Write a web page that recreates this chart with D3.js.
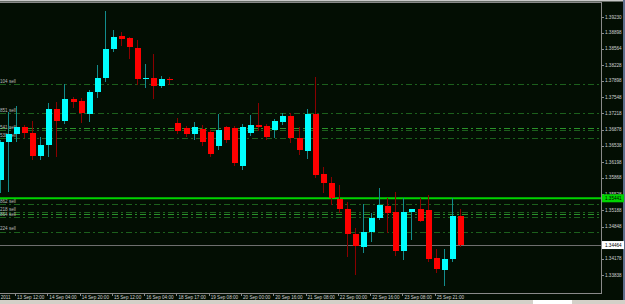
<html>
<head>
<script src="https://d3js.org/d3.v7.min.js"></script>
<style>
  body { margin: 0; background: #d4d0c8; }
  svg { display: block; font-family: "Liberation Sans", Arial, sans-serif; }
</style>
</head>
<body>
<svg width=625 height=304></svg>
<script>
// EURUSD H4, 12-26 Sep 2011
const opens  = [1.3582,1.3662,1.3678,1.3693,1.3681,1.3632,1.3655,1.3731,1.3706,1.3752,1.3747,1.3720,1.3766,1.3796,1.3856,1.3883,1.3879,1.3858,1.3794,1.3796,1.3779,1.3793,1.3701,1.3691,1.3678,1.3689,1.3683,1.3653,1.3693,1.3691,1.3612,1.3681,1.3697,1.3695,1.3687,1.3704,1.3716,1.3670,1.3643,1.3720,1.3595,1.3576,1.3543,1.3522,1.3469,1.3442,1.3474,1.3503,1.3528,1.3515,1.3434,1.3515,1.3522,1.3520,1.3419,1.3394,1.3417,1.3507];
const highs  = [1.3666,1.3724,1.3737,1.3697,1.3706,1.3672,1.3743,1.3745,1.3783,1.3756,1.3754,1.3770,1.3823,1.3936,1.3896,1.3892,1.3881,1.3875,1.3825,1.3846,1.3800,1.3798,1.3712,1.3695,1.3704,1.3697,1.3687,1.3720,1.3695,1.3695,1.3699,1.3718,1.3743,1.3699,1.3710,1.3722,1.3722,1.3693,1.3731,1.3798,1.3610,1.3589,1.3572,1.3536,1.3482,1.3532,1.3513,1.3566,1.3545,1.3557,1.3545,1.3522,1.3545,1.3551,1.3438,1.3438,1.3545,1.3522];
const lows   = [1.3555,1.3557,1.3662,1.3670,1.3624,1.3624,1.3630,1.3630,1.3699,1.3733,1.3701,1.3704,1.3754,1.3787,1.3850,1.3862,1.3835,1.3781,1.3775,1.3752,1.3775,1.3781,1.3678,1.3672,1.3666,1.3653,1.3630,1.3645,1.3660,1.3612,1.3603,1.3674,1.3685,1.3666,1.3670,1.3697,1.3660,1.3635,1.3626,1.3587,1.3555,1.3530,1.3513,1.3421,1.3384,1.3430,1.3453,1.3499,1.3472,1.3423,1.3415,1.3457,1.3495,1.3411,1.3388,1.3361,1.3411,1.3442];
const closes = [1.3662,1.3678,1.3693,1.3681,1.3632,1.3655,1.3731,1.3706,1.3752,1.3745,1.3722,1.3766,1.3796,1.3856,1.3881,1.3877,1.3860,1.3793,1.3796,1.3779,1.3793,1.3791,1.3685,1.3678,1.3693,1.3662,1.3637,1.3687,1.3666,1.3618,1.3693,1.3697,1.3693,1.3672,1.3706,1.3716,1.3670,1.3645,1.3720,1.3593,1.3576,1.3545,1.3522,1.3469,1.3444,1.3474,1.3503,1.3530,1.3513,1.3434,1.3515,1.3522,1.3497,1.3417,1.3396,1.3417,1.3507,1.3446];

const timeLabels = ["12 Sep 2011","13 Sep 12:00","14 Sep 04:00","14 Sep 20:00","15 Sep 12:00","16 Sep 04:00","18 Sep 17:00","19 Sep 08:00","20 Sep 00:00","20 Sep 16:00","21 Sep 08:00","22 Sep 00:00","22 Sep 16:00","23 Sep 08:00","25 Sep 21:00"];
const timeIndex  = [-2,2,6,10,14,18,22,26,30,34,38,42,46,50,54];

// 1.34508 sits under the bid box, so it is not listed
const priceTicks = [1.39230,1.38898,1.38564,1.38228,1.37898,1.37548,1.37218,1.36878,1.36538,1.36198,1.35868,1.35528,1.35188,1.34848,1.34178,1.33838];

// order lines (dash-dot) and their captions
const orderLevels = [1.37824,1.37217,1.36904,1.36862,1.36695,1.35315,1.35148,1.35106,1.35044,1.34747];
const orderNames  = ["104 sell","851 sell","","541 sell","538 sell","862 sell","218 sell","","864 sell","224 sell"];
const orderBright = [false,false,true,false,false,false,false,true,false,false];

const alertLevel = 1.35441; // green line
const bidLevel = 1.34464;   // last price

const W = 625, H = 304;
const plotRight = 601, plotTop = 2, plotBottom = 293;

const svg = d3.select("svg");

const x = d3.scaleLinear().domain([0, 57]).range([-0.07, 459.9]);
const y = d3.scaleLinear().domain([1.39230, 1.33838]).range([17, 275]);

svg.append("rect").attr("width", W).attr("height", H).attr("fill", "#030e03");

// window frame top / bottom
svg.append("rect").attr("x", 0).attr("y", 0).attr("width", W).attr("height", 1.5).attr("fill", "#c8c8c8");
svg.append("rect").attr("x", 0).attr("y", 300).attr("width", W).attr("height", 4).attr("fill", "#d4d0c8");
svg.append("rect").attr("x", 533).attr("y", 300).attr("width", 39).attr("height", 4).attr("fill", "#ffffff");
svg.append("rect").attr("x", 623).attr("y", 0).attr("width", 2).attr("height", 300).attr("fill", "#5d6e8c");

const plot = svg.append("g");

// order lines
plot.selectAll(".lvl")
  .data(orderLevels)
  .join("line")
    .attr("x1", 0).attr("x2", plotRight)
    .attr("y1", d => Math.round(y(d)) + 0.5)
    .attr("y2", d => Math.round(y(d)) + 0.5)
    .attr("stroke", (d, i) => orderBright[i] ? "#2a922a" : "#1c601c")
    .attr("stroke-dasharray", "6,3,2,3");

plot.selectAll(".lvlname")
  .data(orderLevels)
  .join("text")
    .attr("x", 0)
    .attr("y", d => y(d) - 1.5)
    .attr("font-size", 4.6)
    .attr("fill", "#b8b8b8")
    .text((d, i) => orderNames[i]);

// alert + bid lines
plot.append("line")
  .attr("x1", 0).attr("x2", plotRight)
  .attr("y1", y(alertLevel)).attr("y2", y(alertLevel))
  .attr("stroke", "#00d400").attr("stroke-width", 2);

plot.append("line")
  .attr("x1", 0).attr("x2", plotRight)
  .attr("y1", Math.round(y(bidLevel)) + 0.5).attr("y2", Math.round(y(bidLevel)) + 0.5)
  .attr("stroke", "#6e6e6e");

// candles
const idx = d3.range(opens.length);
const candles = plot.append("g").attr("shape-rendering", "crispEdges");

candles.selectAll(".wick")
  .data(idx)
  .join("line")
    .attr("x1", i => Math.round(x(i)) + 0.5)
    .attr("x2", i => Math.round(x(i)) + 0.5)
    .attr("y1", i => y(highs[i]))
    .attr("y2", i => y(lows[i]))
    .attr("stroke", i => closes[i] >= opens[i] ? "#138c8c" : "#8a0000");

candles.selectAll(".body")
  .data(idx)
  .join("rect")
    .attr("x", i => Math.round(x(i)) - 2.5)
    .attr("width", 6)
    .attr("y", i => y(Math.max(opens[i], closes[i])))
    .attr("height", i => Math.max(1, Math.abs(y(opens[i]) - y(closes[i]))))
    .attr("fill", i => closes[i] >= opens[i] ? "#00ffff" : "#ff0000");

// frame lines
const axis = svg.append("g").attr("shape-rendering", "crispEdges");
axis.append("line").attr("x1", 0).attr("x2", plotRight).attr("y1", plotTop + 0.5).attr("y2", plotTop + 0.5).attr("stroke", "#8a8a8a");
axis.append("line").attr("x1", 0).attr("x2", plotRight + 0.5).attr("y1", plotBottom + 0.5).attr("y2", plotBottom + 0.5).attr("stroke", "#8a8a8a");
axis.append("line").attr("x1", plotRight + 0.5).attr("x2", plotRight + 0.5).attr("y1", plotTop).attr("y2", plotBottom + 1).attr("stroke", "#8a8a8a");

// price axis
axis.selectAll(".ptick")
  .data(priceTicks)
  .join("line")
    .attr("x1", plotRight).attr("x2", plotRight + 3)
    .attr("y1", d => Math.round(y(d)) + 0.5).attr("y2", d => Math.round(y(d)) + 0.5)
    .attr("stroke", "#8a8a8a");

svg.selectAll(".plabel")
  .data(priceTicks)
  .join("text")
    .attr("x", plotRight + 4)
    .attr("y", d => y(d))
    .attr("dy", "0.35em")
    .attr("font-size", 4.6)
    .attr("fill", "#d0d0d0")
    .text(d => d.toFixed(5));

// boxed price labels
[[alertLevel, "#00d400"], [bidLevel, "#ffffff"]].forEach(([v, c]) => {
  svg.append("rect")
    .attr("x", plotRight + 1).attr("y", y(v) - 4)
    .attr("width", 22).attr("height", 8).attr("fill", c);
  svg.append("text")
    .attr("x", plotRight + 4).attr("y", y(v)).attr("dy", "0.35em")
    .attr("font-size", 4.6).attr("fill", "#000")
    .text(v.toFixed(5));
});

// time axis
axis.selectAll(".ttick")
  .data(timeIndex)
  .join("line")
    .attr("x1", i => Math.round(x(i)) - 0.5).attr("x2", i => Math.round(x(i)) - 0.5)
    .attr("y1", plotBottom).attr("y2", plotBottom + 3)
    .attr("stroke", "#8a8a8a");

svg.selectAll(".tlabel")
  .data(timeIndex)
  .join("text")
    .attr("x", i => x(i) + 1)
    .attr("y", 297.5)
    .attr("dy", "0.35em")
    .attr("font-size", 4.6)
    .attr("fill", "#d0d0d0")
    .text((d, k) => timeLabels[k]);
</script>
</body>
</html>
